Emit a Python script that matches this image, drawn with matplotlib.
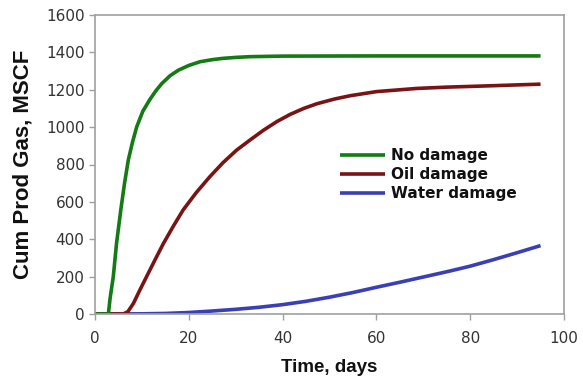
import matplotlib

matplotlib.use("Agg")
import matplotlib.pyplot as plt

# cumulative gas production per damage case, days vs MSCF
no_damage_days = [0.0, 2.85, 3.2, 3.9, 4.6, 5.5, 6.3, 7.1, 8.0, 8.9, 10.2, 11.7, 13.0,
                  14.2, 16.0, 17.8, 20.0, 22.4, 25.0, 27.3, 30.0, 33.0, 40.0, 60.0,
                  80.0, 95.0]
no_damage_gas = [0, 0, 80, 200, 380, 557, 700, 824, 920, 1002, 1085, 1148, 1195, 1232,
                 1275, 1305, 1330, 1350, 1361, 1368, 1373, 1377, 1380, 1381, 1381, 1381]

oil_damage_days = [0.0, 6.0, 7.0, 8.2, 9.5, 11.0, 12.8, 14.6, 16.7, 18.8, 21.6, 24.5,
                   27.3, 30.2, 33.0, 35.9, 38.8, 41.6, 44.5, 47.3, 51.0, 54.4, 60.0,
                   68.6, 75.0, 82.8, 95.0]
oil_damage_gas = [0, 0, 12, 57, 125, 200, 290, 378, 470, 557, 650, 735, 810, 877, 930,
                  983, 1030, 1068, 1100, 1125, 1150, 1168, 1190, 1207, 1214, 1220, 1230]

water_damage_days = [0, 10, 15, 20, 25, 30, 35, 40, 45, 50, 55, 60, 65, 70, 75, 80, 85,
                     90, 95]
water_damage_gas = [0, 1, 3, 8, 16, 25, 36, 50, 68, 90, 115, 143, 170, 198, 226, 256,
                    291, 328, 366]

x_ticks = [0, 20, 40, 60, 80, 100]
y_ticks = [0, 200, 400, 600, 800, 1000, 1200, 1400, 1600]

dpi = 100
fig = plt.figure(figsize=(583 / dpi, 378 / dpi), dpi=dpi)
ax = fig.add_axes([95 / 583, 1 - 314 / 378, (564 - 95) / 583, (314 - 15) / 378])

ax.plot(water_damage_days, water_damage_gas, color="#3a3fb5", lw=2.6,
        label="Water damage", solid_capstyle="butt")
ax.plot(oil_damage_days, oil_damage_gas, color="#7a1414", lw=2.6,
        label="Oil damage", solid_capstyle="butt")
ax.plot(no_damage_days, no_damage_gas, color="#147a14", lw=2.6,
        label="No damage", solid_capstyle="butt")

ax.set_xlim(0, 100)
ax.set_ylim(0, 1600)
ax.set_xticks(x_ticks)
ax.set_yticks(y_ticks)

for spine in ax.spines.values():
    spine.set_color("#a0a0a0")
    spine.set_linewidth(1.2)
ax.tick_params(direction="out", length=4.5, width=1, color="#a0a0a0",
               labelsize=11, labelcolor="#333333")
ax.tick_params(axis="y", pad=3)
ax.tick_params(axis="x", pad=8)
for label in ax.get_xticklabels() + ax.get_yticklabels():
    label.set_family("DejaVu Sans")

ax.set_xlabel("Time, days", family="Liberation Sans", fontweight="bold",
              fontsize=13.5, color="#111111", labelpad=9)
ax.set_ylabel("Cum Prod Gas, MSCF", family="Liberation Sans", fontweight="bold",
              fontsize=16, color="#111111", labelpad=9)

handles, labels = ax.get_legend_handles_labels()
leg = ax.legend(handles[::-1], labels[::-1], loc="upper left",
                bbox_to_anchor=(0.5, 0.59), frameon=False, handlelength=2.9,
                handletextpad=0.4, labelspacing=0.25, borderpad=0.2,
                prop={"family": "DejaVu Sans", "weight": "bold", "size": 11})
for text in leg.get_texts():
    text.set_color("#111111")

fig.savefig("out.png", dpi=dpi)
plt.close(fig)
